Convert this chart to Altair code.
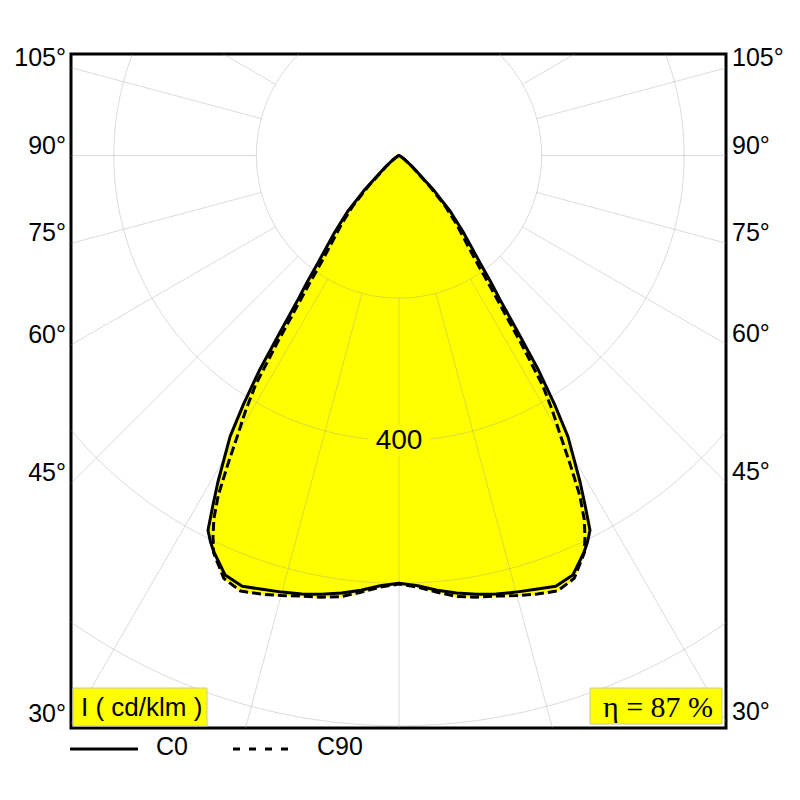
import altair as alt
import pandas as pd

# ---- data (cd/klm vs. angle from nadir, degrees) ----
ANGLES = [0, 2.5, 5, 7.5, 10, 12.5, 15, 17.5, 20, 22.5, 25,
          26, 27, 28, 29, 30, 31, 32, 33, 34, 35, 36, 37,
          40, 42.5, 45, 50, 55, 60, 70, 80, 90]
C0 = [600, 604, 612, 619, 625, 630, 634, 638, 643, 637, 614,
      603, 590, 556, 524, 490, 460, 412, 360, 296, 248, 218, 190,
      140, 107, 70, 25, 10, 4, 1, 0, 0]
C90 = [601, 606, 615, 624, 629, 633, 639, 645, 650, 642, 615,
       595, 572, 540, 495, 452, 418, 380, 315, 258, 218, 186, 165,
       125, 95, 60, 22, 9, 3, 1, 0, 0]
SERIES = ["C0", "C90"]
GRID_RADII = [200, 400, 600, 800]
SPOKE_ANGLES = list(range(0, 360, 15))
SIDE_LABEL_ANGLES = [30, 45, 60, 75, 90, 105]
RADIUS_LABEL = [400]
UNIT_LABEL = ["I ( cd/klm )"]
ETA_LABEL = ["\u03b7 = 87 %"]

# ---- view geometry (data units) ----
XMIN, XMAX = -460.0, 458.6
YMIN, YMAX = -803.0, 142.4
W, H = 655, 674
YELLOW = "#ffff00"
FONT = "Liberation Sans"

# ---- build tables ----
rows = []
for name, vals in zip(SERIES, [C0, C90]):
    idx = 0
    for a, v in zip(reversed(ANGLES), reversed(vals)):
        rows.append({"series": name, "idx": idx, "theta": -a, "I": v})
        idx += 1
    for a, v in zip(ANGLES[1:], vals[1:]):
        rows.append({"series": name, "idx": idx, "theta": a, "I": v})
        idx += 1
curve_df = pd.DataFrame(rows)

grid_rows = []
for r in GRID_RADII:
    for a in range(0, 361, 2):
        grid_rows.append({"r": r, "a": a})
grid_df = pd.DataFrame(grid_rows)
spoke_df = pd.DataFrame({"a": SPOKE_ANGLES})
side_df = pd.DataFrame({"a": SIDE_LABEL_ANGLES,
                        "label": [f"{a}\u00b0" for a in SIDE_LABEL_ANGLES]})
rlabel_df = pd.DataFrame({"r": RADIUS_LABEL, "label": [str(v) for v in RADIUS_LABEL]})

xs = alt.Scale(domain=[XMIN, XMAX], nice=False, zero=False)
ys = alt.Scale(domain=[YMIN, YMAX], nice=False, zero=False)
X = lambda f: alt.X(f, type="quantitative", scale=xs, axis=None)
Y = lambda f: alt.Y(f, type="quantitative", scale=ys, axis=None)

curve_base = alt.Chart(curve_df).transform_calculate(
    x="datum.I * sin(datum.theta * PI / 180)",
    y="-datum.I * cos(datum.theta * PI / 180)",
)

fill = curve_base.mark_line(fill=YELLOW, color=YELLOW, strokeWidth=1).encode(
    x=X("x"), y=Y("y"), order=alt.Order("idx:Q"), detail="series:N"
)

circles = alt.Chart(grid_df).transform_calculate(
    x="datum.r * sin(datum.a * PI / 180)",
    y="-datum.r * cos(datum.a * PI / 180)",
).mark_line(clip=True, color="#999999", opacity=0.35, strokeWidth=1).encode(
    x=X("x"), y=Y("y"), order=alt.Order("a:Q"), detail="r:N"
)

r_in = GRID_RADII[0]
spokes = alt.Chart(spoke_df).transform_calculate(
    x=f"{r_in} * sin(datum.a * PI / 180)",
    y=f"-{r_in} * cos(datum.a * PI / 180)",
    x2="1400 * sin(datum.a * PI / 180)",
    y2="-1400 * cos(datum.a * PI / 180)",
).mark_rule(clip=True, color="#999999", opacity=0.35, strokeWidth=1).encode(
    x=X("x"), y=Y("y"), x2="x2:Q", y2="y2:Q"
)

rlabel_base = alt.Chart(rlabel_df).transform_calculate(x="0", y="-datum.r")
rlabel_bg = rlabel_base.mark_point(
    shape="M -1 -0.5 L 1 -0.5 L 1 0.5 L -1 0.5 Z", size=3900,
    filled=True, fill=YELLOW, opacity=1, strokeWidth=0
).encode(x=X("x"), y=Y("y"))
rlabel = rlabel_base.mark_text(font=FONT, fontSize=28, color="black",
                               baseline="middle", align="center").encode(
    x=X("x"), y=Y("y"), text="label:N"
)

line_c0 = curve_base.transform_filter("datum.series == 'C0'").mark_line(
    color="black", strokeWidth=3, strokeJoin="round", strokeCap="round"
).encode(x=X("x"), y=Y("y"), order=alt.Order("idx:Q"))
line_c90 = curve_base.transform_filter("datum.series == 'C90'").mark_line(
    color="black", strokeWidth=3, strokeDash=[9, 4], strokeJoin="round"
).encode(x=X("x"), y=Y("y"), order=alt.Order("idx:Q"))

left_labels = alt.Chart(side_df).transform_calculate(
    x=f"{XMIN}",
    y=f"{XMIN} * cos(datum.a * PI / 180) / sin(datum.a * PI / 180)",
).mark_text(font=FONT, fontSize=25, align="right", baseline="alphabetic",
            dx=-5, dy=-2, color="black").encode(x=X("x"), y=Y("y"), text="label:N")
right_labels = alt.Chart(side_df).transform_calculate(
    x=f"{XMAX}",
    y=f"-{XMAX} * cos(datum.a * PI / 180) / sin(datum.a * PI / 180)",
).mark_text(font=FONT, fontSize=25, align="left", baseline="alphabetic",
            dx=6, dy=-2, color="black").encode(x=X("x"), y=Y("y"), text="label:N")

unit_df = pd.DataFrame({"t": UNIT_LABEL})
eta_df = pd.DataFrame({"t": ETA_LABEL})
unit_box = alt.Chart(unit_df).mark_rect(fill=YELLOW, stroke="#c8c8a0", strokeWidth=1).encode(
    x=alt.value(2), x2=alt.value(136), y=alt.value(634), y2=alt.value(672))
unit_txt = alt.Chart(unit_df).mark_text(font=FONT, fontSize=26, align="left",
                                        baseline="middle", color="black").encode(
    x=alt.value(10), y=alt.value(654), text="t:N")
eta_box = alt.Chart(eta_df).mark_rect(fill=YELLOW, stroke="#c8c8a0", strokeWidth=1).encode(
    x=alt.value(519), x2=alt.value(651), y=alt.value(634), y2=alt.value(670))
eta_txt = alt.Chart(eta_df).mark_text(font="Liberation Serif", fontSize=30, align="center",
                                      baseline="middle", color="black").encode(
    x=alt.value(587), y=alt.value(654), text="t:N")

leg_df = pd.DataFrame({"t": SERIES})
leg_solid = alt.Chart(leg_df).transform_filter("datum.t == 'C0'").mark_rule(
    color="black", strokeWidth=3).encode(x=alt.value(-1), x2=alt.value(67), y=alt.value(695))
leg_dash = alt.Chart(leg_df).transform_filter("datum.t == 'C90'").mark_rule(
    color="black", strokeWidth=3, strokeDash=[7, 9]).encode(
    x=alt.value(162), x2=alt.value(222), y=alt.value(695))
leg_t0 = alt.Chart(leg_df).transform_filter("datum.t == 'C0'").mark_text(
    font=FONT, fontSize=25, align="left", baseline="middle", color="black").encode(
    x=alt.value(85), y=alt.value(693), text="t:N")
leg_t1 = alt.Chart(leg_df).transform_filter("datum.t == 'C90'").mark_text(
    font=FONT, fontSize=25, align="left", baseline="middle", color="black").encode(
    x=alt.value(246), y=alt.value(693), text="t:N")

chart = alt.layer(
    fill, circles, spokes, rlabel_bg, rlabel, line_c90, line_c0,
    left_labels, right_labels, unit_box, unit_txt, eta_box, eta_txt,
    leg_solid, leg_dash, leg_t0, leg_t1
).properties(
    width=W, height=H,
    autosize=alt.AutoSizeParams(type="none"),
    padding={"left": 71, "top": 54, "right": 800 - 71 - W, "bottom": 800 - 54 - H},
    background="white",
).configure_view(stroke="black", strokeWidth=3)

chart.save("out.html", embed_options={"renderer": "svg", "actions": False})
